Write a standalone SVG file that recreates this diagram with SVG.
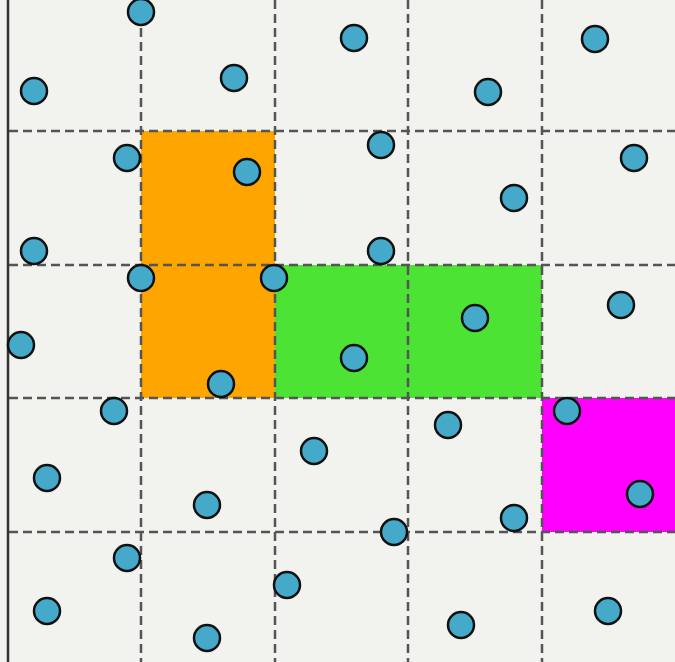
<svg xmlns="http://www.w3.org/2000/svg" width="675" height="662" viewBox="0 0 675 662">
<style>
.grid{stroke:#555;stroke-width:2.5;stroke-dasharray:9 5;fill:none}
.pt{fill:#45aac9;stroke:#111;stroke-width:2.5}
</style>
<rect x="0" y="0" width="675" height="662" fill="#f2f2ee"/>
<g id="regions">
<rect id="orange" x="141" y="131" width="134" height="267" fill="#ffa500"/>
<rect id="green" x="275" y="265" width="267" height="133" fill="#4ce334"/>
<rect id="magenta" x="542" y="398" width="133" height="134" fill="#ff00ff"/>
</g>
<g id="gridlines">
<line class="grid" x1="141" y1="0" x2="141" y2="662"/>
<line class="grid" x1="275" y1="0" x2="275" y2="662"/>
<line class="grid" x1="408" y1="0" x2="408" y2="662"/>
<line class="grid" x1="542" y1="0" x2="542" y2="662"/>
<line class="grid" x1="9" y1="131" x2="675" y2="131"/>
<line class="grid" x1="9" y1="265" x2="675" y2="265"/>
<line class="grid" x1="9" y1="398" x2="675" y2="398"/>
<line class="grid" x1="9" y1="532" x2="675" y2="532"/>
<line x1="8" y1="0" x2="8" y2="662" stroke="#333" stroke-width="2.5"/>
</g>
<g id="points">
<circle class="pt" cx="141" cy="12" r="13"/>
<circle class="pt" cx="34" cy="91" r="13"/>
<circle class="pt" cx="234" cy="78" r="13"/>
<circle class="pt" cx="354" cy="38" r="13"/>
<circle class="pt" cx="488" cy="92" r="13"/>
<circle class="pt" cx="595" cy="39" r="13"/>
<circle class="pt" cx="127" cy="158" r="13"/>
<circle class="pt" cx="247" cy="172" r="13"/>
<circle class="pt" cx="381" cy="145" r="13"/>
<circle class="pt" cx="514" cy="198" r="13"/>
<circle class="pt" cx="634" cy="158" r="13"/>
<circle class="pt" cx="34" cy="251" r="13"/>
<circle class="pt" cx="141" cy="278" r="13"/>
<circle class="pt" cx="274" cy="278" r="13"/>
<circle class="pt" cx="381" cy="251" r="13"/>
<circle class="pt" cx="475" cy="318" r="13"/>
<circle class="pt" cx="621" cy="305" r="13"/>
<circle class="pt" cx="21" cy="345" r="13"/>
<circle class="pt" cx="354" cy="358" r="13"/>
<circle class="pt" cx="221" cy="384" r="13"/>
<circle class="pt" cx="114" cy="411" r="13"/>
<circle class="pt" cx="448" cy="425" r="13"/>
<circle class="pt" cx="567" cy="411" r="13"/>
<circle class="pt" cx="47" cy="478" r="13"/>
<circle class="pt" cx="314" cy="451" r="13"/>
<circle class="pt" cx="207" cy="505" r="13"/>
<circle class="pt" cx="514" cy="518" r="13"/>
<circle class="pt" cx="640" cy="494" r="13"/>
<circle class="pt" cx="394" cy="532" r="13"/>
<circle class="pt" cx="127" cy="558" r="13"/>
<circle class="pt" cx="287" cy="585" r="13"/>
<circle class="pt" cx="47" cy="611" r="13"/>
<circle class="pt" cx="207" cy="638" r="13"/>
<circle class="pt" cx="461" cy="625" r="13"/>
<circle class="pt" cx="608" cy="611" r="13"/>
</g>
</svg>
